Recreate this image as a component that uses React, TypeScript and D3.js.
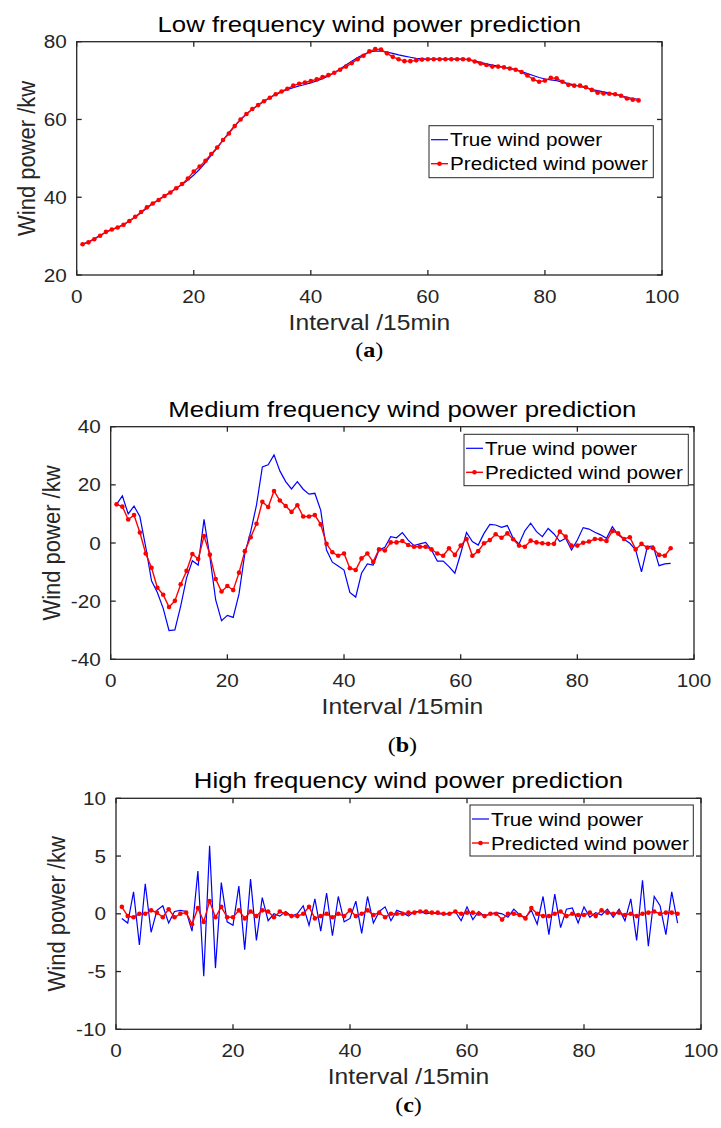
import React, { useEffect, useRef } from "react";
import * as d3 from "d3";

// interval index 1..96 (15 min steps)
const intervals = d3.range(1, 97);

const lowTrue = [
  28.0, 28.5, 29.3, 30.2, 31.0, 31.7, 32.3, 33.0, 33.9, 34.9, 36.0, 37.2, 38.3, 39.4, 40.4, 41.3,
  42.3, 43.3, 44.4, 45.7, 47.2, 48.9, 50.8, 52.7, 54.7, 56.6, 58.4, 60.0, 61.4, 62.6, 63.7, 64.7,
  65.6, 66.4, 67.1, 67.7, 68.2, 68.6, 69.0, 69.4, 69.9, 70.5, 71.2, 72.0, 73.0, 74.0, 75.0, 75.9,
  76.7, 77.3, 77.6, 77.6, 77.3, 77.0, 76.6, 76.3, 76.0, 75.7, 75.6, 75.5, 75.5, 75.5, 75.5, 75.5,
  75.5, 75.5, 75.4, 75.1, 74.7, 74.3, 74.0, 73.7, 73.4, 73.1, 72.8, 72.3, 71.8, 71.3, 70.8, 70.4,
  70.2, 70.0, 69.6, 69.2, 68.9, 68.5, 68.1, 67.7, 67.4, 67.1, 66.8, 66.5, 66.1, 65.7, 65.4, 65.2,
];
const lowPred = [
  27.9, 28.4, 29.2, 30.1, 31.1, 31.7, 32.2, 32.9, 33.9, 35.0, 36.2, 37.4, 38.4, 39.3, 40.3, 41.2,
  42.3, 43.4, 44.8, 46.6, 47.9, 49.4, 51.1, 52.8, 54.7, 56.4, 58.3, 60.0, 61.4, 62.7, 63.7, 64.7,
  65.6, 66.5, 67.2, 67.9, 68.7, 69.2, 69.5, 69.9, 70.3, 70.9, 71.4, 72.0, 72.8, 73.6, 74.5, 75.5,
  76.4, 77.5, 78.1, 78.0, 77.0, 76.1, 75.5, 75.0, 75.0, 75.2, 75.4, 75.5, 75.5, 75.5, 75.5, 75.5,
  75.5, 75.5, 75.4, 74.9, 74.4, 74.0, 73.6, 73.6, 73.4, 73.1, 72.8, 72.2, 71.3, 70.3, 69.7, 70.0,
  70.7, 70.6, 69.7, 68.9, 68.7, 68.7, 68.3, 67.6, 66.9, 66.7, 66.6, 66.5, 66.1, 65.4, 65.1, 64.9,
];
const midTrue = [
  13.3, 16.2, 10.0, 12.7, 9.1, -1.3, -13.0, -17.0, -22.5, -30.1, -29.9, -21.7, -12.1, -6.1, -7.6, 8.1,
  -4.7, -19.6, -26.7, -24.9, -25.6, -17.5, -3.6, 3.9, 13.1, 26.2, 26.9, 30.3, 24.8, 21.1, 18.6, 21.1,
  18.5, 16.8, 17.1, 11.3, -2.4, -6.6, -7.9, -9.3, -17.0, -18.6, -10.4, -7.2, -7.6, -2.4, -1.5, 2.2,
  1.8, 3.6, 1.0, -0.9, -0.3, 0.2, -2.4, -6.2, -6.2, -8.1, -10.4, -3.6, 3.6, 0.5, -0.7, 3.3,
  6.4, 6.2, 5.4, 6.0, 1.6, -0.3, 4.2, 6.8, 3.9, 2.2, 5.0, 3.1, 0.5, 1.6, -2.4, 1.0,
  5.3, 4.8, 3.7, 2.8, 1.6, 5.6, 2.8, 1.3, -0.1, -2.4, -9.9, -1.3, -1.0, -7.8, -7.2, -7.0,
];
const midPred = [
  13.3, 12.5, 8.1, 9.6, 3.6, -3.6, -8.5, -15.4, -17.8, -22.0, -19.9, -14.2, -9.6, -3.8, -5.5, 2.4,
  -4.0, -12.4, -16.7, -14.8, -16.2, -10.2, -2.8, 2.0, 6.6, 14.2, 12.4, 17.9, 14.6, 12.7, 10.7, 13.0,
  9.1, 9.1, 9.6, 6.4, -0.3, -3.2, -4.4, -3.6, -8.7, -9.3, -5.3, -3.6, -6.5, -2.2, -2.6, 0.2,
  0.2, 0.7, -0.7, -1.3, -1.3, -1.3, -2.2, -3.6, -4.4, -1.8, -4.1, -0.9, 1.4, -4.4, -2.8, -0.1,
  1.0, 3.0, 1.8, 3.3, 1.3, -0.9, -1.3, 0.8, 0.2, -0.1, -0.3, -0.3, 3.9, 2.2, -0.9, -0.9,
  0.1, 0.5, 1.4, 1.3, 0.7, 4.1, 3.3, 1.4, 2.0, -2.2, -0.3, -1.6, -1.8, -4.1, -4.4, -1.8,
];
const highTrue = [
  -0.4, -0.8, 1.9, -2.7, 2.6, -1.6, 0.3, 0.7, -0.8, 0.2, 0.3, 0.2, -1.5, 3.7, -5.4, 5.9,
  -4.7, 2.7, -0.7, -1.0, 2.4, -3.1, 3.0, -2.3, 1.4, -0.6, 0.0, -0.2, 0.2, -0.2, 0.0, 0.7,
  -1.0, 1.3, -1.5, 1.8, -1.9, 1.5, -0.7, -0.4, 1.1, -1.7, 1.5, -0.8, 0.2, 0.6, -0.6, 0.3,
  0.1, -0.2, 0.2, 0.2, 0.0, 0.1, 0.0, 0.0, 0.0, 0.2, -0.6, 0.6, -0.5, 0.2, -0.2, 0.0,
  0.1, 0.0, -0.3, 0.4, -0.1, -0.3, 0.3, -0.9, 1.5, -1.8, 1.7, -1.2, 0.4, 0.5, -0.8, 0.6,
  -0.3, 0.1, -0.1, 0.4, -0.3, 0.4, -0.6, 1.3, -2.3, 2.9, -2.8, 1.5, 0.7, -1.8, 1.9, -0.8,
];
const highPred = [
  0.6, -0.2, -0.3, 0.0, 0.0, 0.3, 0.1, -0.3, 0.4, -0.3, 0.0, 0.1, -0.9, 0.5, -0.7, 1.1,
  -0.3, 0.6, -0.3, -0.3, 0.3, -0.4, 0.2, -0.2, 0.3, 0.2, -0.3, 0.2, 0.0, -0.2, -0.2, 0.0,
  0.6, -0.4, -0.2, 0.0, -0.3, 0.0, -0.2, 0.3, -0.2, 0.0, 0.3, -0.1, 0.1, -0.3, 0.0, 0.0,
  0.0, 0.1, 0.1, 0.2, 0.2, 0.1, 0.1, 0.0, 0.0, 0.2, 0.0, 0.1, 0.1, 0.0, -0.2, 0.0,
  0.0, -0.5, 0.0, 0.0, -0.1, -0.4, 0.5, 0.0, -0.2, -0.2, 0.0, 0.2, -0.2, 0.0, -0.1, -0.1,
  0.1, -0.2, 0.3, 0.1, 0.0, 0.1, -0.1, 0.0, -0.2, 0.0, 0.1, 0.2, 0.0, 0.1, 0.1, 0.0,
];

const xTicks = [0, 20, 40, 60, 80, 100];
const lowTicks = [20, 40, 60, 80];
const midTicks = [-40, -20, 0, 20, 40];
const highTicks = [-10, -5, 0, 5, 10];

const titles = [
  "Low frequency wind power prediction",
  "Medium frequency wind power prediction",
  "High frequency wind power prediction",
];
const legendLabels = ["True wind power", "Predicted wind power"];
const panelTags = ["a", "b", "c"];

const FONT = "'Liberation Sans', Arial, sans-serif";
const SX = 1.12; // the picture is a bit wider than tall
const INK = "#262626";

const App = () => {
  const ref = useRef(null);

  useEffect(() => {
    const svg = d3.select(ref.current);
    svg.selectAll("*").remove();

    const panels = [
      { yt: lowTrue, yp: lowPred, ticks: lowTicks, left: 76.7, right: 662, top: 41.7, bottom: 275, ylab: 35, leg: [429, 125.7, 224.3, 52], tagY: 357 },
      { yt: midTrue, yp: midPred, ticks: midTicks, left: 110.7, right: 694, top: 426.7, bottom: 659.3, ylab: 60, leg: [464, 434.3, 224.3, 51.4], tagY: 752 },
      { yt: highTrue, yp: highPred, ticks: highTicks, left: 116, right: 701, top: 798.3, bottom: 1029.3, ylab: 65, leg: [470, 805, 223.3, 51], tagY: 1112 },
    ];

    // stretched text, anchored at (x, y)
    const label = (g, x, y, str, size, anchor, rotate = false) =>
      g
        .append("g")
        .attr("transform", `translate(${x},${y}) scale(${SX},1)${rotate ? " rotate(-90)" : ""}`)
        .append("text")
        .attr("text-anchor", anchor)
        .attr("font-family", FONT)
        .attr("font-size", size)
        .attr("fill", INK)
        .text(str);

    panels.forEach((p, k) => {
      const x = d3.scaleLinear().domain([0, 100]).range([p.left, p.right]);
      const y = d3
        .scaleLinear()
        .domain([p.ticks[0], p.ticks[p.ticks.length - 1]])
        .range([p.bottom, p.top]);
      const g = svg.append("g");
      const cx = (p.left + p.right) / 2;

      // white plot background
      g.append("rect")
        .attr("x", p.left)
        .attr("y", p.top)
        .attr("width", p.right - p.left)
        .attr("height", p.bottom - p.top)
        .attr("fill", "#fff");

      // lines
      const line = d3
        .line()
        .x((d, i) => x(intervals[i]))
        .y((d) => y(d));

      g.append("path")
        .datum(p.yt)
        .attr("d", line)
        .attr("fill", "none")
        .attr("stroke", "#0000ff")
        .attr("stroke-width", 1.2);

      g.append("path")
        .datum(p.yp)
        .attr("d", line)
        .attr("fill", "none")
        .attr("stroke", "#ff0000")
        .attr("stroke-width", 1.4);

      g.append("g")
        .selectAll("circle")
        .data(p.yp)
        .join("circle")
        .attr("cx", (d, i) => x(intervals[i]))
        .attr("cy", (d) => y(d))
        .attr("r", 2.3)
        .attr("fill", "#ff0000");

      // box + inward ticks
      g.append("rect")
        .attr("x", p.left)
        .attr("y", p.top)
        .attr("width", p.right - p.left)
        .attr("height", p.bottom - p.top)
        .attr("fill", "none")
        .attr("stroke", INK)
        .attr("stroke-width", 1.3);

      xTicks.forEach((t) => {
        g.append("line").attr("x1", x(t)).attr("x2", x(t)).attr("y1", p.bottom).attr("y2", p.bottom - 5).attr("stroke", INK).attr("stroke-width", 1.3);
        g.append("line").attr("x1", x(t)).attr("x2", x(t)).attr("y1", p.top).attr("y2", p.top + 5).attr("stroke", INK).attr("stroke-width", 1.3);
        label(g, x(t), p.bottom + 28, String(t), 18.5, "middle");
      });

      p.ticks.forEach((t) => {
        g.append("line").attr("x1", p.left).attr("x2", p.left + 5).attr("y1", y(t)).attr("y2", y(t)).attr("stroke", INK).attr("stroke-width", 1.3);
        g.append("line").attr("x1", p.right).attr("x2", p.right - 5).attr("y1", y(t)).attr("y2", y(t)).attr("stroke", INK).attr("stroke-width", 1.3);
        label(g, p.left - 10, y(t) + 6.6, String(t), 18.5, "end");
      });

      // titles and axis labels
      label(g, cx, p.top - 10, titles[k], 23, "middle").attr("fill", "#000");
      label(g, cx, p.bottom + 55, "Interval /15min", 22, "middle");
      label(g, p.ylab, (p.top + p.bottom) / 2, "Wind power /kw", 22, "middle", true);

      // (a) / (b) / (c)
      const tag = label(g, cx, p.tagY, "", 21.5, "middle")
        .attr("font-family", "'Liberation Serif', 'Times New Roman', serif")
        .attr("fill", "#000");
      tag.append("tspan").text("(");
      tag.append("tspan").attr("font-weight", "bold").text(panelTags[k]);
      tag.append("tspan").text(")");

      // legend
      const [lx, ly, lw, lh] = p.leg;
      g.append("rect")
        .attr("x", lx)
        .attr("y", ly)
        .attr("width", lw)
        .attr("height", lh)
        .attr("fill", "#fff")
        .attr("stroke", INK)
        .attr("stroke-width", 1);
      [0, 1].forEach((j) => {
        const by = ly + 20.5 + j * 24;
        const my = by - 6.5;
        g.append("line")
          .attr("x1", lx + 2)
          .attr("x2", lx + 19)
          .attr("y1", my)
          .attr("y2", my)
          .attr("stroke", j === 0 ? "#0000ff" : "#ff0000")
          .attr("stroke-width", j === 0 ? 1.2 : 1.4);
        if (j === 1) {
          g.append("circle").attr("cx", lx + 10.5).attr("cy", my).attr("r", 2.3).attr("fill", "#ff0000");
        }
        label(g, lx + 21, by, legendLabels[j], 18.5, "start").attr("fill", "#000");
      });
    });
  }, []);

  return (
    <svg
      ref={ref}
      width={721}
      height={1128}
      style={{ position: "absolute", left: 0, top: 0, background: "#fff" }}
    />
  );
};

export default App;
